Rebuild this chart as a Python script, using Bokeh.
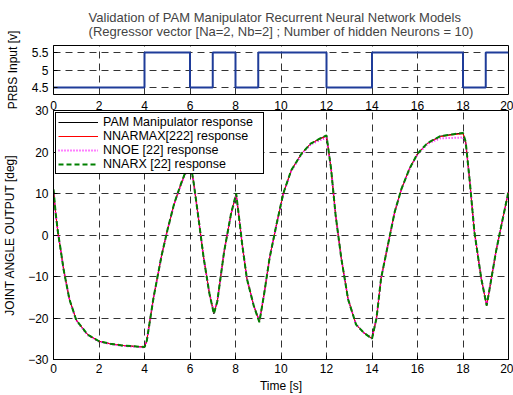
from bokeh.plotting import figure
from bokeh.models import LinearAxis, FixedTicker
from bokeh.layouts import column
from bokeh.embed import file_html
from bokeh.resources import INLINE

# ---------------- data ----------------
prbs_t = [0, 4, 6, 7, 8, 9, 12, 14, 18, 19, 20]
prbs_u = [4.5, 5.5, 4.5, 5.5, 4.5, 5.5, 4.5, 5.5, 4.5, 5.5, 5.5]

t = [0.0, 0.1, 0.2, 0.3, 0.45, 0.7, 1.0, 1.5, 2.0, 2.5, 3.0, 3.5, 4.0, 4.1, 4.4,
     4.75, 5.0, 5.3, 5.6, 6.0, 6.15, 6.35, 6.6, 6.85, 7.05, 7.2, 7.5, 7.8, 8.03,
     8.15, 8.3, 8.5, 8.8, 9.05, 9.25, 9.5, 9.8, 10.1, 10.45, 10.9, 11.3, 11.7,
     12.0, 12.2, 12.4, 12.65, 12.95, 13.3, 13.65, 14.0, 14.2, 14.4, 14.7, 15.0,
     15.3, 15.65, 16.0, 16.45, 17.0, 17.6, 18.0, 18.12, 18.3, 18.5, 18.8, 19.04,
     19.15, 19.45, 19.75, 20.0]

pam = [11, 5, 0.5, -3, -8.5, -15.5, -20.5, -24, -25.6, -26.2, -26.6, -26.8, -27,
       -25.5, -15, -5, 1, 7.5, 12.3, 18, 13, 5, -5.5, -14, -19, -16, -4, 5, 10,
       4.5, -2.5, -10.5, -17, -21, -14.5, -5.5, 2.5, 10, 15.6, 19.6, 22, 23.2,
       24, 16, 4.8, -5.6, -15.5, -21.6, -23.6, -25, -20, -10.4, -2.4, 5.6, 11.2,
       16, 19.6, 22.2, 23.8, 24.3, 24.6, 22.4, 12.8, 0.8, -10.4, -17, -13.6, -4,
       4, 10.5]

nnarmax = [10.6, 5, 0.4, -3, -8.4, -15.4, -20.4, -24, -25.6, -26.2, -26.6, -26.8,
           -27, -25.4, -15, -5, 1, 7.4, 12.2, 17.8, 13, 5, -5.4, -14, -18.8, -16,
           -4, 5, 9.8, 4.5, -2.5, -10.4, -17, -20.8, -14.5, -5.5, 2.5, 10, 15.6,
           19.6, 22, 23.1, 23.8, 16, 4.8, -5.6, -15.4, -21.6, -23.6, -24.9, -20,
           -10.4, -2.4, 5.6, 11.2, 16, 19.6, 22.1, 23.7, 24.2, 24.4, 22.3, 12.8,
           0.8, -10.4, -16.9, -13.6, -4, 4, 10.4]

nnoe = [9.8, 4.8, 0.4, -3.1, -8.6, -15.6, -20.6, -24.1, -25.7, -26.3, -26.7,
        -26.9, -27.1, -25.6, -15, -5, 1, 7.3, 12, 17.5, 13, 5, -5.5, -14, -18.6,
        -16, -4, 5, 9.6, 4.5, -2.5, -10.5, -17, -20.6, -14.5, -5.5, 2.4, 9.8,
        15.4, 19.4, 21.8, 22.8, 23.4, 16, 4.8, -5.6, -15.5, -21.6, -23.6, -24.8,
        -20, -10.4, -2.4, 5.6, 11.1, 15.9, 19.4, 22, 23.3, 23.4, 23.5, 22, 12.8,
        0.8, -10.4, -16.8, -13.6, -4, 4, 10.3]

nnarx = [11, 5, 0.5, -3, -8.5, -15.5, -20.5, -24, -25.6, -26.2, -26.6, -26.8, -27,
         -25.5, -15, -5, 1, 7.5, 12.3, 18, 13, 5, -5.5, -14, -19, -16, -4, 5, 10,
         4.5, -2.5, -10.5, -17, -21, -14.5, -5.5, 2.5, 10, 15.6, 19.6, 22, 23.2,
         24, 16, 4.8, -5.6, -15.5, -21.6, -23.6, -25, -20, -10.4, -2.4, 5.6, 11.2,
         16, 19.6, 22.2, 23.8, 24.3, 24.6, 22.4, 12.8, 0.8, -10.4, -17, -13.6, -4,
         4, 10.5]

x_ticks = [0, 2, 4, 6, 8, 10, 12, 14, 16, 18, 20]
top_y_ticks = [4.5, 5, 5.5]
bot_y_ticks = [-30, -20, -10, 0, 10, 20, 30]

title_line1 = "Validation of  PAM Manipulator Recurrent Neural Network Models"
title_line2 = "(Regressor vector [Na=2, Nb=2] ; Number of hidden Neurons = 10)"

FONT = "Liberation Sans"


def style_axis(ax):
    ax.major_tick_in = 4
    ax.major_tick_out = 0
    ax.minor_tick_in = 0
    ax.minor_tick_out = 0
    ax.axis_line_color = "black"
    ax.major_tick_line_color = "black"
    ax.major_label_text_font = FONT
    ax.major_label_text_font_size = "12px"
    ax.major_label_text_color = "black"
    ax.axis_label_text_font = FONT
    ax.axis_label_text_font_size = "12px"
    ax.axis_label_text_font_style = "normal"
    ax.axis_label_text_color = "black"


def style_grid(p):
    for g in (p.xgrid, p.ygrid):
        g.grid_line_color = "black"
        g.grid_line_dash = "7 5"
        g.grid_line_alpha = 0.8
        g.grid_line_width = 1
    p.outline_line_color = "black"
    p.outline_line_alpha = 1
    p.outline_line_width = 1


# ---------------- top panel ----------------
p1 = figure(width=513, height=111, x_range=(0, 20), y_range=(4.3, 5.7),
            output_backend="svg", toolbar_location=None,
            min_border_left=52, min_border_right=5, min_border_top=0,
            min_border_bottom=17)
p1.title.text = title_line1 + "\n" + title_line2
p1.title.align = "center"
p1.title.vertical_align = "bottom"
p1.title.text_font = FONT
p1.title.text_font_size = "13px"
p1.title.text_font_style = "normal"
p1.title.text_line_height = 0.9
p1.title.standoff = 14
p1.step(prbs_t, prbs_u, mode="after", line_color="#1f3c99", line_width=2)
p1.xaxis.visible = False
p1.yaxis.ticker = FixedTicker(ticks=top_y_ticks)
p1.xgrid.ticker = FixedTicker(ticks=x_ticks)
p1.yaxis.axis_label = "PRBS Input [v]"
style_axis(p1.yaxis[0])
p1.yaxis.axis_label_standoff = 9
style_grid(p1)

# ---------------- bottom panel ----------------
p2 = figure(width=513, height=300, x_range=(0, 20), y_range=(-30, 30),
            output_backend="svg", toolbar_location=None,
            min_border_left=52, min_border_right=5, min_border_top=15,
            min_border_bottom=35)
p2.border_fill_alpha = 0
p2.styles = {"margin-top": "-16px"}
top_axis = LinearAxis(ticker=FixedTicker(ticks=x_ticks))
style_axis(top_axis)
top_axis.major_tick_in = 0
top_axis.axis_line_color = None
top_axis.major_label_standoff = 1
p2.add_layout(top_axis, "above")

p2.line(t, pam, line_color="black", line_width=1,
        legend_label="PAM Manipulator response")
p2.line(t, nnarmax, line_color="red", line_width=1,
        legend_label="NNARMAX[222] response")
p2.line(t, nnoe, line_color="magenta", line_width=2, line_dash="1 2",
        legend_label="NNOE [22] response")
p2.line(t, nnarx, line_color="#008000", line_width=2, line_dash="5 3",
        legend_label="NNARX [22] response")

bottom_axis = p2.below[0]
left_axis = p2.left[0]
bottom_axis.ticker = FixedTicker(ticks=x_ticks)
left_axis.ticker = FixedTicker(ticks=bot_y_ticks)
bottom_axis.axis_label = "Time [s]"
left_axis.axis_label = "JOINT ANGLE OUTPUT [deg]"
style_axis(bottom_axis)
style_axis(left_axis)
bottom_axis.axis_label_standoff = 3
bottom_axis.major_label_standoff = 4
left_axis.axis_label_standoff = 8
p2.xgrid.ticker = FixedTicker(ticks=x_ticks)
p2.ygrid.ticker = FixedTicker(ticks=bot_y_ticks)
style_grid(p2)

lg = p2.legend[0]
lg.location = "top_left"
lg.margin = 2
lg.padding = 2
lg.spacing = 0
lg.label_height = 10
lg.glyph_height = 10
lg.glyph_width = 40
lg.label_width = 158
lg.label_standoff = 5
lg.label_text_font = FONT
lg.label_text_font_size = "12.5px"
lg.label_text_line_height = 1.0
lg.label_text_color = "black"
lg.border_line_color = "black"
lg.border_line_width = 1
lg.border_line_alpha = 1
lg.background_fill_alpha = 1

layout = column(p1, p2)
open("out.html", "w").write(file_html(layout, INLINE))
